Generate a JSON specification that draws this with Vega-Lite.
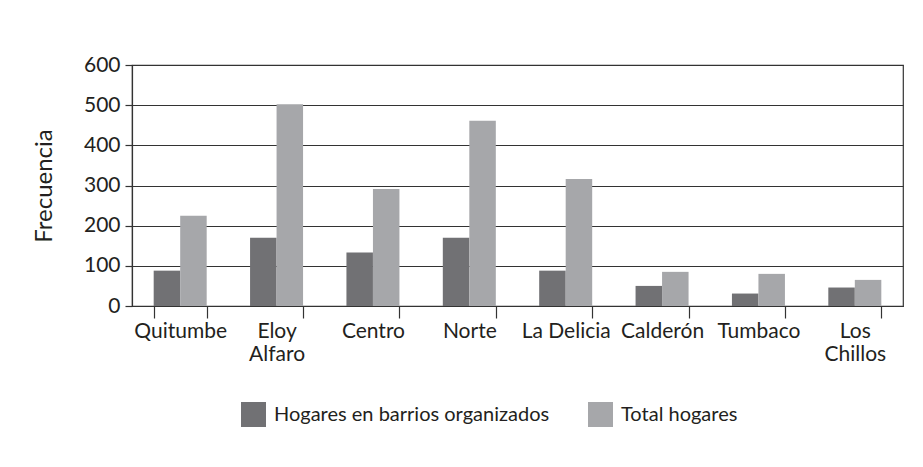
{
  "$schema": "https://vega.github.io/schema/vega-lite/v6.json",
  "width": 771,
  "height": 241,
  "autosize": {"type": "none"},
  "padding": {"left": 132, "top": 65, "right": 20, "bottom": 161},
  "background": "white",
  "data": {
    "values": [
      {"zona": "Quitumbe", "serie": "Hogares en barrios organizados", "valor": 88},
      {"zona": "Quitumbe", "serie": "Total hogares", "valor": 225},
      {"zona": "Eloy\nAlfaro", "serie": "Hogares en barrios organizados", "valor": 170},
      {"zona": "Eloy\nAlfaro", "serie": "Total hogares", "valor": 502},
      {"zona": "Centro", "serie": "Hogares en barrios organizados", "valor": 133},
      {"zona": "Centro", "serie": "Total hogares", "valor": 291},
      {"zona": "Norte", "serie": "Hogares en barrios organizados", "valor": 170},
      {"zona": "Norte", "serie": "Total hogares", "valor": 461},
      {"zona": "La Delicia", "serie": "Hogares en barrios organizados", "valor": 88},
      {"zona": "La Delicia", "serie": "Total hogares", "valor": 316},
      {"zona": "Calderón", "serie": "Hogares en barrios organizados", "valor": 50},
      {"zona": "Calderón", "serie": "Total hogares", "valor": 85},
      {"zona": "Tumbaco", "serie": "Hogares en barrios organizados", "valor": 31},
      {"zona": "Tumbaco", "serie": "Total hogares", "valor": 80},
      {"zona": "Los\nChillos", "serie": "Hogares en barrios organizados", "valor": 46},
      {"zona": "Los\nChillos", "serie": "Total hogares", "valor": 65}
    ]
  },
  "mark": {"type": "bar"},
  "encoding": {
    "x": {
      "field": "zona",
      "type": "nominal",
      "sort": null,
      "title": null,
      "scale": {"paddingInner": 0.45, "paddingOuter": 0.225},
      "axis": {
        "labelAngle": 0,
        "labelExpr": "isValid(datum.value) ? split(datum.value, '\\n') : ''",
        "labelLineHeight": 23,
        "labelFont": "Lato",
        "labelFontSize": 21,
        "labelColor": "#231f20",
        "labelPadding": 2,
        "tickBand": "extent",
        "tickSize": 12,
        "tickColor": "#333333",
        "tickWidth": 1.2,
        "domainColor": "#333333",
        "domainWidth": 1.2,
        "grid": false
      }
    },
    "xOffset": {"field": "serie", "type": "nominal", "sort": null, "scale": {"paddingInner": 0, "paddingOuter": 0}},
    "y": {
      "field": "valor",
      "type": "quantitative",
      "title": "Frecuencia",
      "scale": {"domain": [0, 600], "nice": false},
      "axis": {
        "values": [0, 100, 200, 300, 400, 500, 600],
        "labelFont": "Lato",
        "labelFontSize": 21,
        "labelColor": "#231f20",
        "labelPadding": 5,
        "tickSize": 7,
        "tickColor": "#333333",
        "tickWidth": 1.2,
        "domainColor": "#333333",
        "domainWidth": 1.2,
        "gridColor": "#333333",
        "gridWidth": 1.2,
        "titleFont": "Lato",
        "titleFontSize": 24,
        "titleFontWeight": "normal",
        "titleColor": "#231f20",
        "titlePadding": 27
      }
    },
    "color": {
      "field": "serie",
      "type": "nominal",
      "sort": null,
      "scale": {"range": ["#717174", "#a6a7aa"]},
      "legend": {
        "title": null,
        "orient": "none",
        "direction": "horizontal",
        "legendX": 109,
        "legendY": 337,
        "symbolType": "square",
        "symbolSize": 625,
        "symbolStrokeWidth": 0,
        "labelFont": "Lato",
        "labelFontSize": 20,
        "labelColor": "#231f20",
        "labelOffset": 8,
        "labelLimit": 400,
        "columnPadding": 38
      }
    }
  },
  "config": {
    "view": {"stroke": "#333333", "strokeWidth": 1.2}
  }
}
